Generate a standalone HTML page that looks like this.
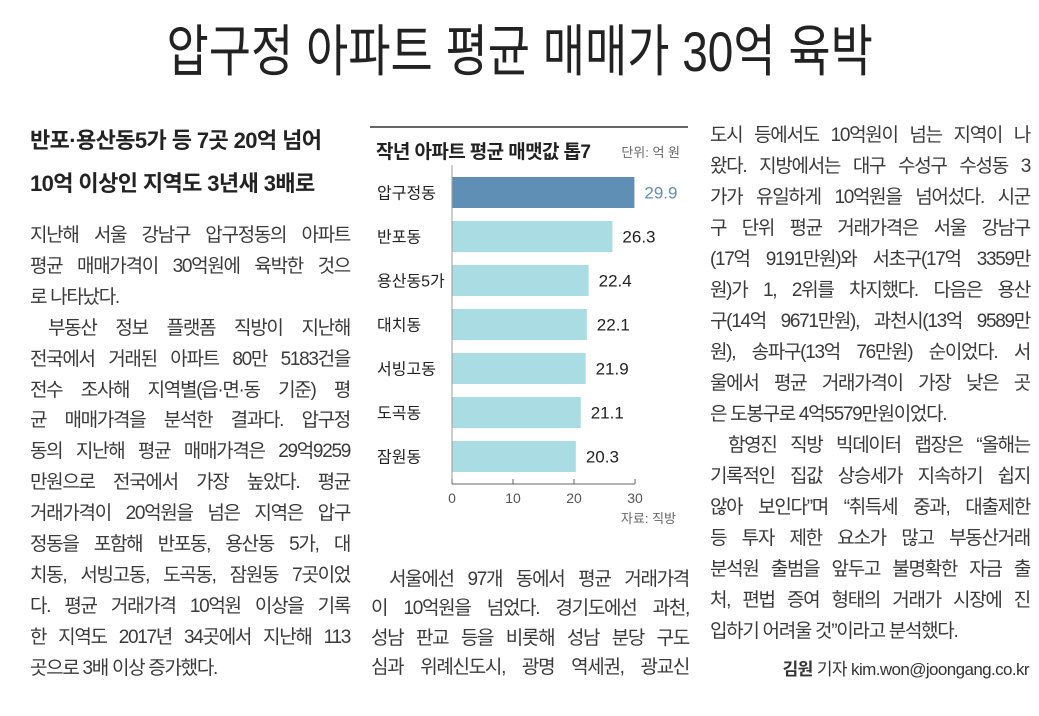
<!DOCTYPE html>
<html lang="ko"><head><meta charset="utf-8">
<style>
html,body{margin:0;padding:0;background:#fff;}
body{width:1039px;height:716px;position:relative;overflow:hidden;font-family:"Liberation Sans","Noto Sans CJK KR",sans-serif;color:#3a3a3a;}
.title{position:absolute;left:0;top:17px;width:1039px;text-align:center;}
.title span{display:inline-block;font-family:"Liberation Sans","Noto Sans CJK KR",sans-serif;font-size:56px;color:#222;transform:scaleX(0.82);transform-origin:center;white-space:nowrap;line-height:70px;}
.col{position:absolute;font-size:19px;letter-spacing:-1.3px;}
.col div{white-space:nowrap;height:0;position:relative;}
.col div span{position:absolute;left:0;right:0;top:-14px;line-height:27px;}
.j span{text-align:justify;text-align-last:justify;}
.ind span{padding-left:18px;}
.sub{position:absolute;left:30px;font-size:22px;font-weight:bold;color:#222;letter-spacing:-0.6px;white-space:nowrap;}
</style></head><body>
<div class="title"><span>압구정 아파트 평균 매매가 30억 육박</span></div>

<div class="sub" style="top:123px">반포·용산동5가 등 7곳 20억 넘어</div>
<div class="sub" style="top:166px">10억 이상인 지역도 3년새 3배로</div>

<div class="col" id="colL" style="left:30px;width:320px;top:0"></div>
<div class="col" id="colM" style="left:371px;width:318px;top:0"></div>
<div class="col" id="colR" style="left:710px;width:320px;top:0"></div>

<svg id="chart" width="1039" height="716" style="position:absolute;left:0;top:0"></svg>

<script>
const categories=["압구정동","반포동","용산동5가","대치동","서빙고동","도곡동","잠원동"];
const values=[29.9,26.3,22.4,22.1,21.9,21.1,20.3];
const valueLabels=["29.9","26.3","22.4","22.1","21.9","21.1","20.3"];
const ticks=[0,10,20,30];

const NS="http://www.w3.org/2000/svg";
const svg=document.getElementById('chart');
const x0=452, x1=635, xmax=30;
const xs=v=>x0+(x1-x0)*v/xmax;
const yTop=177, step=44, bh=31;
const ys=i=>yTop+i*step;
function mk(tag,attrs,txt){const e=document.createElementNS(NS,tag);for(const k in attrs)e.setAttribute(k,attrs[k]);if(txt!==undefined)e.textContent=txt;svg.appendChild(e);return e;}
const FF='"Liberation Sans","Noto Sans CJK KR",sans-serif';

let e=mk('line',{x1:370,x2:688,y1:127,y2:127,stroke:'#333','stroke-width':1.5});


e=mk('text',{x:376,y:158,'font-size':19,'font-weight':'bold',fill:'#222','font-family':FF,'letter-spacing':-0.6},'작년 아파트 평균 매맷값 톱7');


e=mk('text',{x:680,y:157,'font-size':13,fill:'#666','text-anchor':'end','font-family':FF},'단위: 억 원');



categories.forEach((c,i)=>{
  const y=ys(i);
  let r=mk('rect',{x:x0,y:y,width:xs(values[i])-x0,height:bh,fill:i===0?'#5f8fb4':'#a9dce3'});
  
  
  let t=mk('text',{x:377,y:y+bh/2+6,'font-size':16,fill:'#222','font-family':FF},c);
  
  
  let v=mk('text',{x:xs(values[i])+10,y:y+bh/2+6,'font-size':17,fill:i===0?'#5f8fb4':'#222','font-family':FF},valueLabels[i]);
  
  
});
e=mk('line',{x1:x0,x2:x0,y1:165,y2:484,stroke:'#999','stroke-width':1});


e=mk('line',{x1:x0,x2:x1,y1:484,y2:484,stroke:'#666','stroke-width':1});


ticks.forEach(t=>{
  let l=mk('line',{x1:xs(t),x2:xs(t),y1:479,y2:484,stroke:'#666','stroke-width':1});
  
  
  let tx=mk('text',{x:xs(t),y:503,'font-size':14,fill:'#555','text-anchor':'middle','font-family':FF},String(t));
  
  
});
e=mk('text',{x:676,y:523,'font-size':13,fill:'#666','text-anchor':'end','font-family':FF},'자료: 직방');



function fill(id,start,stepY,lines){
  const col=document.getElementById(id);
  lines.forEach((ln,i)=>{
    const d=document.createElement('div');
    d.className=ln[1]||'';
    d.style.top=(start+i*stepY)+'px';
    d.style.position='absolute';d.style.left='0';d.style.right='0';
    
    
    const s=document.createElement('span');s.textContent=ln[0];d.appendChild(s);col.appendChild(d);
  });
}
fill('colL',236,30.9,[
["지난해 서울 강남구 압구정동의 아파트","j"],
["평균 매매가격이 30억원에 육박한 것으","j"],
["로 나타났다.",""],
["부동산 정보 플랫폼 직방이 지난해","j ind"],
["전국에서 거래된 아파트 80만 5183건을","j"],
["전수 조사해 지역별(읍·면·동 기준) 평","j"],
["균 매매가격을 분석한 결과다. 압구정","j"],
["동의 지난해 평균 매매가격은 29억9259","j"],
["만원으로 전국에서 가장 높았다. 평균","j"],
["거래가격이 20억원을 넘은 지역은 압구","j"],
["정동을 포함해 반포동, 용산동 5가, 대","j"],
["치동, 서빙고동, 도곡동, 잠원동 7곳이었","j"],
["다. 평균 거래가격 10억원 이상을 기록","j"],
["한 지역도 2017년 34곳에서 지난해 113","j"],
["곳으로 3배 이상 증가했다.",""]
]);
fill('colM',580,29.3,[
["서울에선 97개 동에서 평균 거래가격","j ind"],
["이 10억원을 넘었다. 경기도에선 과천,","j"],
["성남 판교 등을 비롯해 성남 분당 구도","j"],
["심과 위례신도시, 광명 역세권, 광교신","j"]
]);
fill('colR',136,31.0,[
["도시 등에서도 10억원이 넘는 지역이 나","j"],
["왔다. 지방에서는 대구 수성구 수성동 3","j"],
["가가 유일하게 10억원을 넘어섰다. 시군","j"],
["구 단위 평균 거래가격은 서울 강남구","j"],
["(17억 9191만원)와 서초구(17억 3359만","j"],
["원)가 1, 2위를 차지했다. 다음은 용산","j"],
["구(14억 9671만원), 과천시(13억 9589만","j"],
["원), 송파구(13억 76만원) 순이었다. 서","j"],
["울에서 평균 거래가격이 가장 낮은 곳","j"],
["은 도봉구로 4억5579만원이었다.",""],
["함영진 직방 빅데이터 랩장은 “올해는","j ind"],
["기록적인 집값 상승세가 지속하기 쉽지","j"],
["않아 보인다”며 “취득세 중과, 대출제한","j"],
["등 투자 제한 요소가 많고 부동산거래","j"],
["분석원 출범을 앞두고 불명확한 자금 출","j"],
["처, 편법 증여 형태의 거래가 시장에 진","j"],
["입하기 어려울 것”이라고 분석했다.",""]
]);
</script>
<div style="position:absolute;right:10px;top:655px;font-size:17px;letter-spacing:-0.6px;color:#333;white-space:nowrap"><b>김원</b> 기자 kim.won@joongang.co.kr</div>
</body></html>
